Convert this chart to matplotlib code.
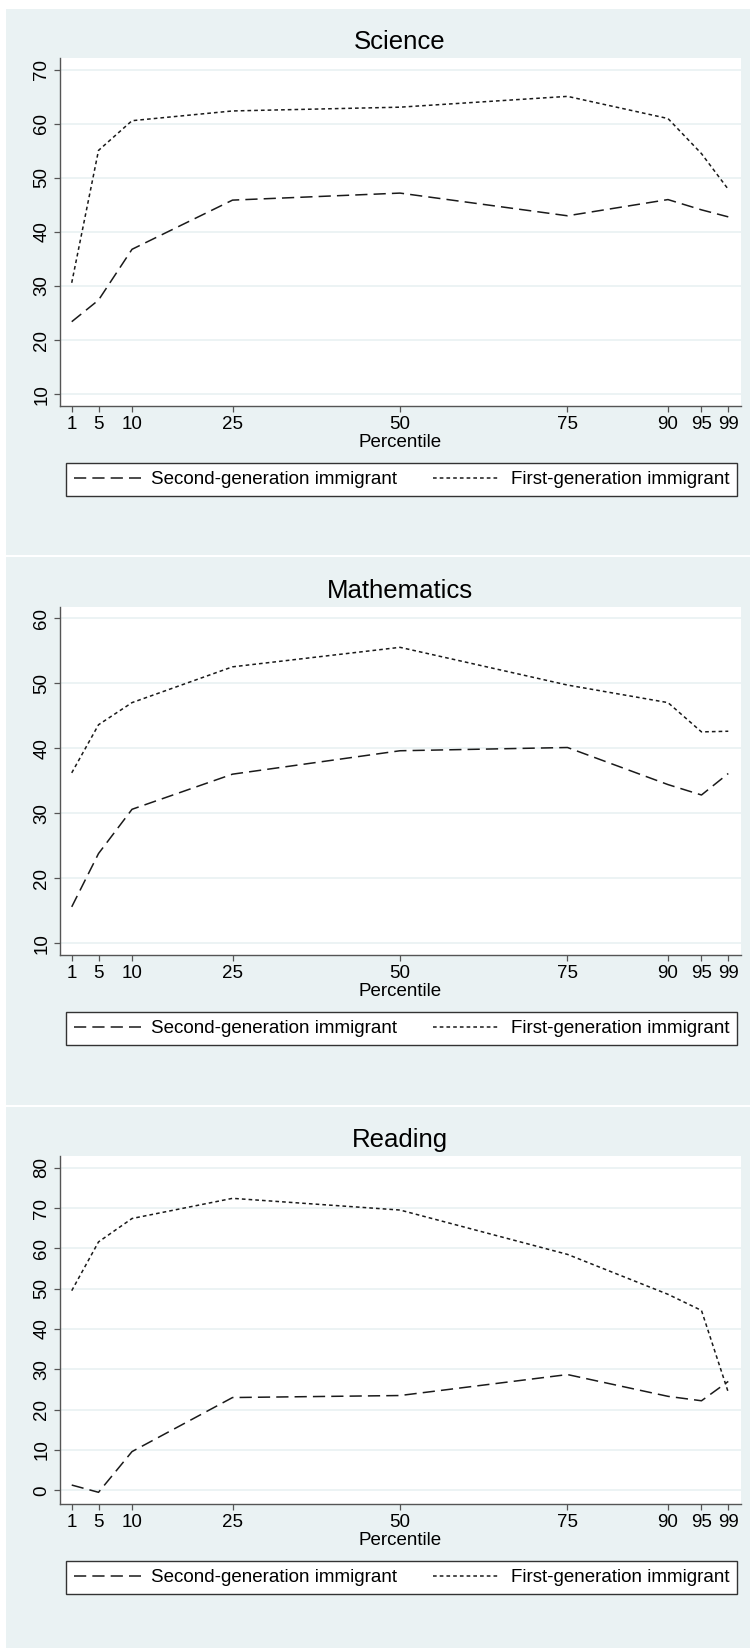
import matplotlib
matplotlib.use("Agg")
import matplotlib.pyplot as plt
from matplotlib.patches import Rectangle

plt.rcParams['font.family'] = ['Liberation Sans', 'DejaVu Sans']

# percentiles on the x axis
percentiles = [1, 5, 10, 25, 50, 75, 90, 95, 99]
x_ticklabels = ["1", "5", "10", "25", "50", "75", "90", "95", "99"]

# values
sci_second = [23.4, 27.4, 36.8, 45.9, 47.2, 43.0, 46.0, 44.1, 42.8]
sci_first = [30.6, 55.1, 60.6, 62.4, 63.1, 65.1, 61.0, 54.5, 47.9]

math_second = [15.6, 23.8, 30.6, 36.0, 39.6, 40.1, 34.4, 32.8, 36.1]
math_first = [36.2, 43.6, 47.0, 52.5, 55.5, 49.7, 47.0, 42.5, 42.6]

read_second = [1.3, -0.5, 9.6, 23.0, 23.5, 28.7, 23.3, 22.2, 27.0]
read_first = [49.5, 61.6, 67.4, 72.4, 69.5, 58.5, 48.6, 44.6, 24.3]

titles = ["Science", "Mathematics", "Reading"]
yticks = [range(10, 71, 10), range(10, 61, 10), range(0, 81, 10)]
ylims = [(7.8, 72.2), (8.2, 61.7), (-3.4, 82.9)]
series = [(sci_second, sci_first), (math_second, math_first), (read_second, read_first)]

W, H = 750, 1648
BG = '#EAF2F3'
LINE = '#1a1a1a'

fig = plt.figure(figsize=(W / 100, H / 100), dpi=100, facecolor='white')

# panel geometry in pixels: (panel top, panel bottom, plot top, plot bottom, legend top, legend bottom)
panels = [
    (9, 555, 58, 406, 463, 496),
    (557, 1105, 607, 955, 1012, 1045),
    (1107, 1648, 1156, 1504, 1561, 1594),
]


def fx(px):
    return px / W


def fy(py):
    return 1 - py / H


for i, (ptop, pbot, atop, abot, ltop, lbot) in enumerate(panels):
    # light background for each graph
    fig.patches.append(Rectangle((fx(6), fy(pbot)), fx(W - 6), (pbot - ptop) / H,
                                 transform=fig.transFigure, facecolor=BG,
                                 edgecolor='none', zorder=-1))

    ax = fig.add_axes([fx(60), fy(abot), fx(741 - 60), (abot - atop) / H])
    ax.set_zorder(1)
    ax.set_facecolor('white')
    second, first = series[i]
    l1, = ax.plot(percentiles, second, color=LINE, lw=1.1, linestyle=(0, (8, 4)),
                  label="Second-generation immigrant")
    l2, = ax.plot(percentiles, first, color=LINE, lw=1.1, linestyle=(0, (2.4, 2.0)),
                  label="First-generation immigrant")

    ax.set_xlim(-0.75, 100.9)
    ax.set_ylim(*ylims[i])
    ax.set_xticks(percentiles)
    ax.set_xticklabels(x_ticklabels, fontsize=13.5)
    ax.set_yticks(list(yticks[i]))
    ax.set_yticklabels([str(v) for v in yticks[i]], fontsize=13.5, rotation=90, va='center')
    ax.yaxis.grid(True, color=BG, lw=1.3)
    ax.set_axisbelow(True)
    for s in ['top', 'right']:
        ax.spines[s].set_visible(False)
    for s in ['left', 'bottom']:
        ax.spines[s].set_color('#555555')
        ax.spines[s].set_linewidth(1.0)
    ax.tick_params(length=4, width=0.9, color='#555555', pad=3)

    ax.set_xlabel("Percentile", fontsize=13.5, labelpad=1)
    fig.text(fx(400), fy(atop - 16), titles[i], fontsize=18.5, ha='center', va='center')

    leg = ax.legend(handles=[l1, l2], ncol=2, loc='center left',
                    bbox_to_anchor=(fx(66), fy((ltop + lbot) / 2)),
                    bbox_transform=fig.transFigure, fontsize=13.5, handlelength=3.6,
                    handletextpad=0.55, columnspacing=1.9, borderaxespad=0,
                    borderpad=0.4, fancybox=False, framealpha=1)
    leg.get_frame().set_edgecolor('#333333')
    leg.get_frame().set_linewidth(1.0)

fig.savefig("out.png", dpi=100, facecolor='white')
